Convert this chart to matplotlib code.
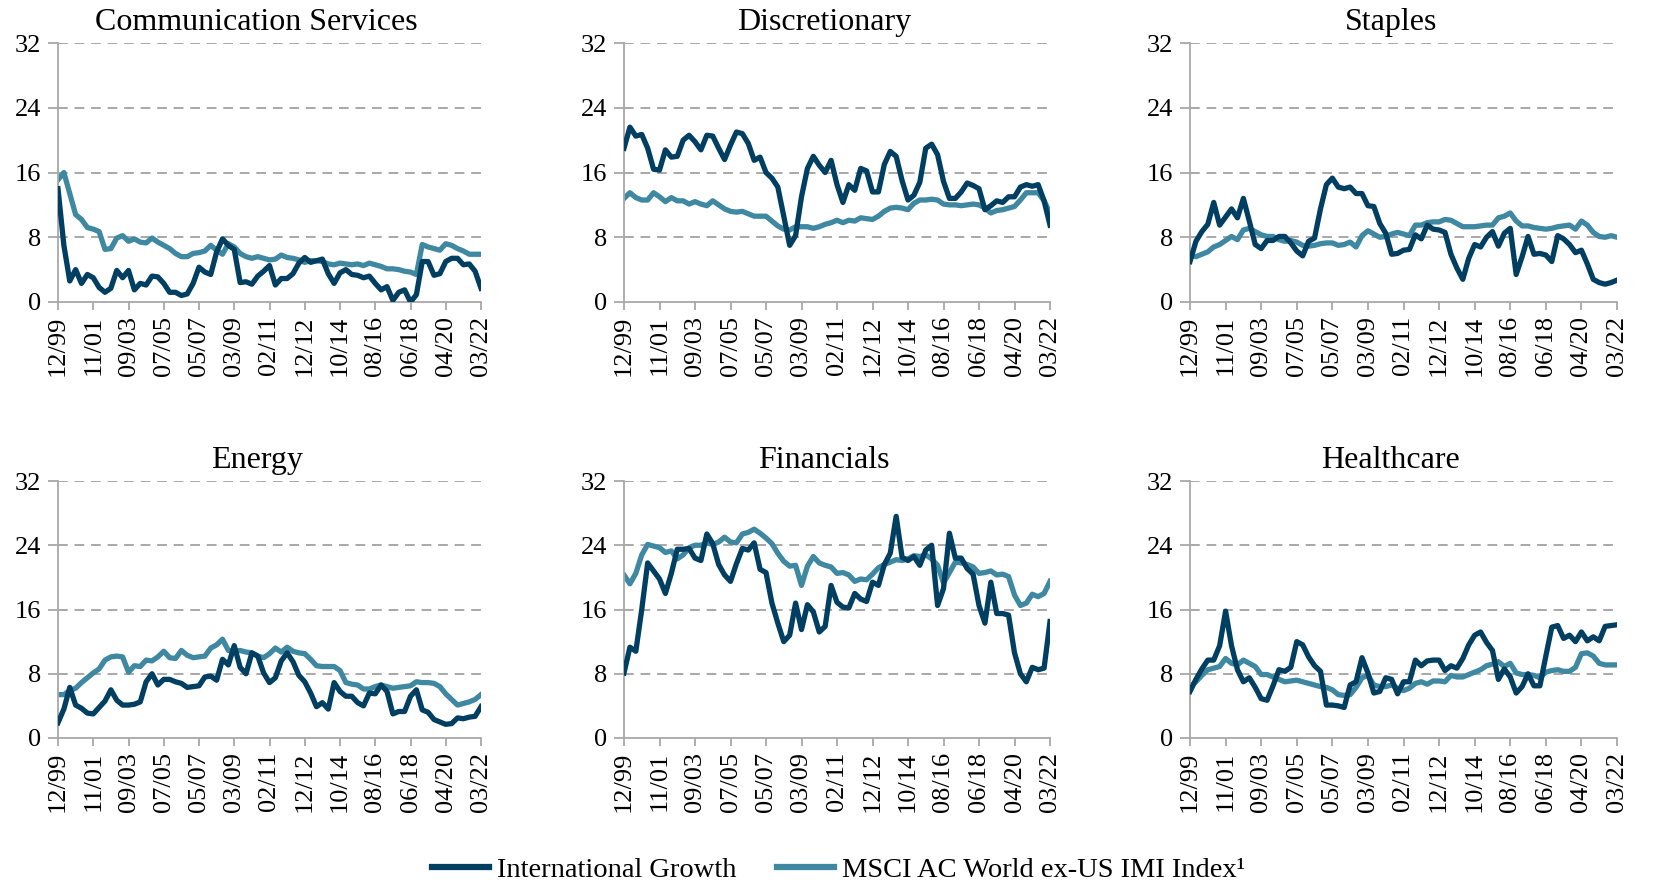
import numpy as np
import matplotlib
matplotlib.use("Agg")
import matplotlib.pyplot as plt

plt.rcParams["font.family"] = ["Liberation Serif", "DejaVu Serif"]

tick_labels = ["12/99", "11/01", "09/03", "07/05", "05/07", "03/09", "02/11",
               "12/12", "10/14", "08/16", "06/18", "04/20", "03/22"]
y_ticks = [0, 8, 16, 24, 32]

# values, evenly spaced between 12/99 and 03/22
comm_growth = [14.0, 7.0, 2.6, 4.0, 2.3, 3.4, 3.0, 1.8, 1.2, 1.7, 3.9, 3.0, 3.9, 1.5, 2.3, 2.1,
               3.2, 3.1, 2.3, 1.2, 1.2, 0.8, 1.0, 2.3, 4.3, 3.7, 3.4, 6.2, 7.8, 7.0, 6.5, 2.4,
               2.5, 2.2, 3.2, 3.8, 4.5, 2.1, 2.9, 2.9, 3.5, 4.8, 5.5, 4.9, 5.1, 5.3, 3.5, 2.3,
               3.6, 4.0, 3.4, 3.3, 3.0, 3.2, 2.3, 1.5, 1.9, 0.2, 1.2, 1.5, 0.0, 0.9, 5.0, 5.0,
               3.3, 3.5, 5.0, 5.4, 5.4, 4.6, 4.7, 3.8, 1.7]
comm_index = [15.1, 16.0, 13.4, 10.8, 10.2, 9.2, 9.0, 8.7, 6.5, 6.6, 7.9, 8.2, 7.5, 7.8, 7.4, 7.3,
              7.9, 7.4, 7.0, 6.6, 6.0, 5.6, 5.6, 6.0, 6.1, 6.3, 7.0, 6.4, 5.9, 7.2, 6.8, 6.0,
              5.6, 5.4, 5.6, 5.4, 5.2, 5.3, 5.8, 5.5, 5.4, 5.2, 4.9, 5.1, 5.1, 5.0, 4.7, 4.6,
              4.8, 4.7, 4.6, 4.7, 4.5, 4.8, 4.6, 4.4, 4.1, 4.1, 4.0, 3.8, 3.7, 3.4, 7.1, 6.8,
              6.6, 6.4, 7.2, 7.0, 6.6, 6.3, 5.9, 5.9, 5.9]

disc_growth = [19.0, 21.6, 20.5, 20.7, 19.0, 16.4, 16.3, 18.8, 17.9, 18.0, 20.0, 20.6, 19.8, 18.8,
               20.6, 20.5, 19.0, 17.6, 19.4, 21.0, 20.8, 19.6, 17.5, 17.9, 16.0, 15.3, 14.2, 10.6,
               7.0, 8.2, 13.0, 16.5, 18.0, 16.9, 16.0, 17.5, 14.5, 12.3, 14.5, 13.8, 16.5, 16.2,
               13.6, 13.6, 17.0, 18.6, 18.0, 15.0, 12.6, 13.2, 14.8, 19.0, 19.5, 18.2, 14.9, 12.8,
               12.8, 13.6, 14.7, 14.4, 14.0, 11.4, 11.9, 12.5, 12.3, 13.0, 13.0, 14.2, 14.5, 14.3,
               14.5, 12.5, 9.5]
disc_index = [12.8, 13.5, 12.9, 12.6, 12.6, 13.5, 13.0, 12.4, 12.9, 12.5, 12.5, 12.1, 12.4, 12.1,
              11.9, 12.5, 12.0, 11.5, 11.2, 11.1, 11.2, 10.9, 10.6, 10.6, 10.6, 10.0, 9.4, 9.0,
              8.9, 9.3, 9.3, 9.3, 9.1, 9.3, 9.6, 9.8, 10.1, 9.8, 10.1, 10.0, 10.4, 10.3, 10.2,
              10.6, 11.2, 11.6, 11.7, 11.6, 11.4, 12.2, 12.6, 12.6, 12.7, 12.6, 12.1, 12.0, 12.0,
              11.9, 12.0, 12.1, 12.0, 11.6, 11.0, 11.3, 11.4, 11.6, 11.8, 12.6, 13.5, 13.5, 13.5,
              12.5, 11.0]

stap_growth = [5.0, 7.5, 8.7, 9.6, 12.3, 9.5, 10.5, 11.5, 10.4, 12.8, 10.0, 7.1, 6.6, 7.6, 7.6,
               8.1, 8.1, 7.3, 6.3, 5.7, 7.5, 7.9, 11.5, 14.5, 15.3, 14.2, 14.0, 14.2, 13.4, 13.4,
               11.9, 11.8, 9.7, 8.5, 5.9, 6.0, 6.4, 6.5, 8.3, 7.8, 9.5, 9.0, 8.9, 8.6, 5.9, 4.2,
               2.8, 5.4, 7.1, 6.8, 8.0, 8.7, 6.9, 8.5, 9.1, 3.4, 5.6, 8.1, 5.9, 6.0, 5.8, 5.0,
               8.2, 7.8, 7.1, 6.1, 6.4, 4.7, 2.8, 2.4, 2.2, 2.4, 2.7]
stap_index = [5.8, 5.6, 5.9, 6.2, 6.8, 7.1, 7.6, 8.1, 7.7, 8.9, 9.1, 8.7, 8.3, 8.1, 8.1, 7.7,
              7.5, 7.6, 7.4, 7.0, 6.9, 7.0, 7.2, 7.3, 7.3, 7.0, 7.1, 7.4, 6.8, 8.2, 8.8, 8.4,
              8.0, 8.1, 8.4, 8.6, 8.4, 8.2, 9.5, 9.5, 9.8, 9.9, 9.9, 10.2, 10.1, 9.7, 9.3, 9.3,
              9.3, 9.4, 9.5, 9.5, 10.4, 10.6, 11.0, 10.0, 9.4, 9.4, 9.2, 9.1, 9.0, 9.1, 9.3, 9.4,
              9.5, 9.0, 10.0, 9.5, 8.6, 8.1, 8.0, 8.2, 8.0]

ener_growth = [1.9, 3.6, 6.3, 4.1, 3.7, 3.1, 3.0, 3.8, 4.6, 6.0, 4.7, 4.1, 4.1, 4.2, 4.5, 7.0,
               8.0, 6.6, 7.3, 7.3, 7.0, 6.8, 6.3, 6.4, 6.5, 7.6, 7.7, 7.2, 9.8, 9.1, 11.5, 8.8,
               8.0, 10.6, 10.2, 8.1, 6.9, 7.5, 9.6, 10.6, 9.5, 7.8, 7.0, 5.6, 3.9, 4.4, 3.6, 6.9,
               5.8, 5.2, 5.2, 4.4, 4.0, 5.6, 5.5, 6.6, 5.8, 3.0, 3.3, 3.3, 5.2, 6.0, 3.5, 3.2,
               2.3, 2.0, 1.7, 1.8, 2.5, 2.4, 2.6, 2.7, 3.9]
ener_index = [5.4, 5.4, 5.9, 6.2, 6.9, 7.5, 8.1, 8.6, 9.7, 10.1, 10.2, 10.1, 8.2, 9.0, 8.9, 9.7,
              9.6, 10.1, 10.8, 10.0, 9.9, 10.9, 10.3, 10.0, 10.1, 10.2, 11.2, 11.6, 12.3, 10.9,
              10.8, 10.9, 10.7, 10.6, 10.2, 10.0, 10.5, 11.2, 10.7, 11.3, 10.8, 10.6, 10.5, 9.8,
              9.0, 8.9, 8.9, 8.9, 8.4, 6.9, 6.7, 6.6, 6.1, 6.1, 6.4, 6.6, 6.4, 6.2, 6.3, 6.4,
              6.5, 7.0, 6.9, 6.9, 6.8, 6.4, 5.5, 4.8, 4.1, 4.3, 4.5, 4.8, 5.4]

fin_growth = [8.1, 11.3, 10.8, 16.0, 21.8, 20.8, 19.8, 18.0, 20.5, 23.5, 23.5, 23.6, 22.4, 22.1,
              25.4, 24.2, 21.6, 20.3, 19.5, 21.7, 23.6, 23.4, 24.3, 21.0, 20.6, 16.8, 14.3, 12.0,
              12.8, 16.8, 13.5, 16.6, 15.7, 13.2, 13.9, 19.0, 16.9, 16.3, 16.2, 18.0, 17.3, 17.0,
              19.4, 19.0, 21.6, 23.0, 27.6, 22.5, 22.1, 22.6, 21.5, 23.4, 24.0, 16.5, 18.6, 25.5,
              22.4, 22.4, 21.1, 20.4, 16.5, 14.3, 19.4, 15.5, 15.5, 15.3, 10.6, 8.0, 7.0, 8.8,
              8.5, 8.7, 14.5]
fin_index = [20.3, 19.2, 20.5, 22.8, 24.1, 23.9, 23.7, 23.1, 23.3, 22.3, 22.8, 23.7, 24.0, 24.0,
             24.3, 24.1, 24.4, 25.0, 24.4, 24.3, 25.4, 25.6, 26.0, 25.5, 24.9, 24.2, 23.0, 22.0,
             21.4, 21.5, 19.0, 21.4, 22.6, 21.8, 21.5, 21.3, 20.5, 20.6, 20.3, 19.5, 19.8, 19.7,
             20.4, 21.2, 21.6, 21.9, 22.2, 22.1, 22.3, 22.7, 22.6, 22.8, 22.3, 21.5, 19.3, 20.6,
             21.9, 21.8, 21.6, 21.3, 20.5, 20.6, 20.8, 20.3, 20.4, 20.1, 17.8, 16.5, 16.8, 17.9,
             17.6, 18.0, 19.5]

hc_growth = [5.8, 7.3, 8.6, 9.7, 9.7, 11.5, 15.8, 11.5, 8.5, 7.0, 7.5, 6.3, 4.9, 4.7, 6.5, 8.5,
             8.3, 8.8, 12.0, 11.6, 10.1, 9.0, 8.3, 4.1, 4.1, 4.0, 3.8, 6.6, 7.0, 10.0, 8.1, 5.6,
             5.8, 7.5, 7.3, 5.5, 7.0, 7.0, 9.7, 9.0, 9.6, 9.7, 9.7, 8.4, 9.0, 8.7, 9.9, 11.6,
             12.8, 13.2, 11.9, 10.9, 7.3, 8.6, 7.6, 5.6, 6.4, 8.0, 6.5, 6.5, 10.2, 13.8, 14.0,
             12.4, 12.8, 12.0, 13.2, 12.1, 12.6, 12.1, 13.9, 14.0, 14.1]
hc_index = [6.4, 7.0, 7.8, 8.5, 8.7, 8.9, 9.9, 9.3, 9.1, 9.7, 9.3, 8.9, 7.9, 7.9, 7.6, 7.3,
            7.0, 7.1, 7.2, 7.0, 6.8, 6.6, 6.4, 6.3, 6.0, 5.4, 5.3, 5.4, 6.3, 7.5, 7.8, 6.6,
            6.4, 6.4, 6.6, 6.2, 5.9, 6.2, 6.8, 7.0, 6.7, 7.1, 7.1, 7.0, 7.8, 7.6, 7.6, 7.9,
            8.2, 8.5, 9.0, 9.2, 9.5, 8.9, 9.3, 8.1, 7.9, 7.9, 7.8, 7.5, 8.2, 8.4, 8.5, 8.3,
            8.3, 8.8, 10.5, 10.6, 10.2, 9.3, 9.1, 9.1, 9.1]

panels = [
    ("Communication Services", comm_growth, comm_index),
    ("Discretionary", disc_growth, disc_index),
    ("Staples", stap_growth, stap_index),
    ("Energy", ener_growth, ener_index),
    ("Financials", fin_growth, fin_index),
    ("Healthcare", hc_growth, hc_index),
]

dark = "#003f62"
light = "#3f88a2"
gray = "#a8a8a8"

W, H = 1677, 885
fig = plt.figure(figsize=(W / 100, H / 100), dpi=100)

lefts = [58, 624, 1190]
widths = [423, 426, 427]
tops = [43, 481]
bottoms = [302, 738]

for k, (title, growth, index) in enumerate(panels):
    r, c = divmod(k, 3)
    ax = fig.add_axes([lefts[c] / W, 1 - bottoms[r] / H, widths[c] / W, (bottoms[r] - tops[r]) / H])
    x = np.arange(len(growth))
    ax.plot(x, growth, color=dark, lw=3.8, solid_joinstyle="round", zorder=3,
            label="International Growth")
    ax.plot(x, index, color=light, lw=3.8, solid_joinstyle="round", zorder=2,
            label="MSCI AC World ex-US IMI Index¹")
    ax.set_xlim(0, len(growth) - 1)
    ax.set_ylim(0, 32)
    ax.set_yticks(y_ticks)
    ax.set_xticks(np.linspace(0, len(growth) - 1, len(tick_labels)))
    ax.set_xticklabels(tick_labels, rotation=90)
    for yv in y_ticks[1:]:
        ax.axhline(yv, color=gray, lw=1.4, dashes=(5, 3.5), zorder=1)
    for s in ["top", "right"]:
        ax.spines[s].set_visible(False)
    for s in ["left", "bottom"]:
        ax.spines[s].set_color(gray)
        ax.spines[s].set_linewidth(1.3)
    ax.tick_params(axis="y", length=7, width=1.3, color=gray, pad=5, labelsize=19)
    ax.tick_params(axis="x", length=6, width=1.3, color=gray, pad=4, labelsize=19)
    ax.text(0.47, 1.025, title, transform=ax.transAxes, ha="center", va="bottom", fontsize=23)
    if k == 0:
        handles, labels = ax.get_legend_handles_labels()

leg = fig.legend(handles, labels, loc="lower center", bbox_to_anchor=(0.5, -0.027), ncol=2,
                 frameon=False, fontsize=20.5, handlelength=2.0, handletextpad=0.3,
                 columnspacing=1.4)
for line in leg.get_lines():
    line.set_linewidth(4.5)

fig.savefig("out.png", dpi=100)
